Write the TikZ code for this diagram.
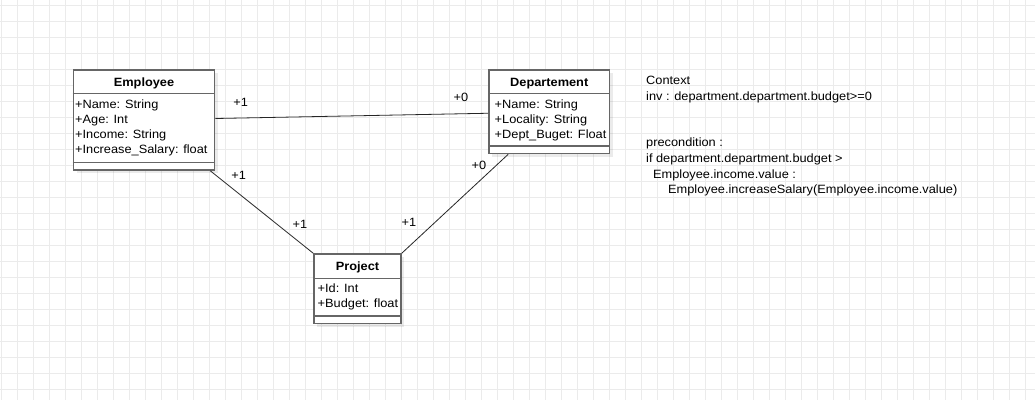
\documentclass[tikz,border=0pt]{standalone}
\usepackage{fontspec}
\setmainfont[FakeStretch=1.065]{Liberation Sans}
\usetikzlibrary{positioning}
\usetikzlibrary{calc}
\usetikzlibrary{shadows}
\definecolor{boxgrey}{HTML}{666666}
\definecolor{gridgrey}{HTML}{EBEBEB}
\tikzset{
        classbox/.style={draw=boxgrey,line width=1.6pt,fill=white,inner sep=0pt,
                drop shadow={shadow xshift=3pt,shadow yshift=-3pt,fill=black,opacity=0.08}},
        classtitle/.style={font=\fontsize{12}{15}\selectfont\bfseries,inner sep=0pt,anchor=base},
        classattr/.style={font=\fontsize{12}{15}\selectfont,align=left,anchor=north west,inner sep=0pt},
        classline/.style={draw=boxgrey,line width=1.6pt},
        assoc/.style={draw=black!85,line width=0.8pt},
        mult/.style={font=\fontsize{12}{15}\selectfont,inner sep=0pt},
        gridline/.style={draw=gridgrey,line width=0.8pt},
        }

\begin{document}
\begin{tikzpicture}[x=1pt,y=-1pt]

			\useasboundingbox (0,0) rectangle (1035,400);
			\fill [white] (0,0) rectangle (1035,400);

			% background grid.....................
			\foreach \gx in {1,17,...,1033} \draw [gridline] (\gx,0) -- (\gx,400);
			\foreach \gy in {5,21,...,389} \draw [gridline] (0,\gy) -- (1035,\gy);

			% Employee class......................
			\node [classbox, minimum width=141, minimum height=100] (employee) at (144,120) {};
			\draw [classline] (employee.west |- 0,93.5) -- (employee.east |- 0,93.5);
			\draw [classline] (employee.west |- 0,162.5) -- (employee.east |- 0,162.5);
			\node [classtitle] (employee-name) at (144,86) {Employee};
			\node [classattr] (employee-attr) at (75,98.2) {\strut+Name: String\\\strut+Age: Int\\\strut+Income: String\\\strut+Increase\_Salary: float};

			% Departement class...................
			\node [classbox, minimum width=120.5, minimum height=83.5] (dept) at (549.25,111.75) {};
			\draw [classline] (dept.west |- 0,93.5) -- (dept.east |- 0,93.5);
			\draw [classline] (dept.west |- 0,146) -- (dept.east |- 0,146);
			\node [classtitle] (dept-name) at (549.25,86) {Departement};
			\node [classattr] (dept-attr) at (494.5,98.2) {\strut+Name: String\\\strut+Locality: String\\\strut+Dept\_Buget: Float};

			% Project class.......................
			\node [classbox, minimum width=87, minimum height=69.5] (project) at (357.5,288.75) {};
			\draw [classline] (project.west |- 0,278.5) -- (project.east |- 0,278.5);
			\draw [classline] (project.west |- 0,316) -- (project.east |- 0,316);
			\node [classtitle] (project-name) at (357.5,270) {Project};
			\node [classattr] (project-attr) at (317.5,282.1) {\strut+Id: Int\\\strut+Budget: float};

			% associations........................
			\draw [assoc] ($(employee.east)+(0,-1.5)$) -- ($(dept.west)+(0,1.5)$);
			\draw [assoc] ($(employee.south east)+(-5,0)$) -- (project.north west);
			\draw [assoc] ($(dept.south west)+(20,0)$) -- (project.north east);

			% multiplicities......................
			\node [mult] (m-emp-dept) at (240.7,102.7) {+1};
			\node [mult] (m-dept-emp) at (461,97.3) {+0};
			\node [mult] (m-emp-proj) at (238.7,175.7) {+1};
			\node [mult] (m-proj-emp) at (300,224) {+1};
			\node [mult] (m-dept-proj) at (479,165.7) {+0};
			\node [mult] (m-proj-dept) at (409,222.3) {+1};

			% constraints text....................
			\node [classattr, font=\fontsize{12}{15.6}\selectfont] (ocl) at (646,73.4) {\strut Context\\\strut inv : department.department.budget>=0\\\strut\\\strut\\\strut precondition :\\\strut if department.department.budget >\\\strut\hspace*{7pt}Employee.income.value :\\\strut\hspace*{22pt}Employee.increaseSalary(Employee.income.value)};
		\end{tikzpicture}
\end{document}
